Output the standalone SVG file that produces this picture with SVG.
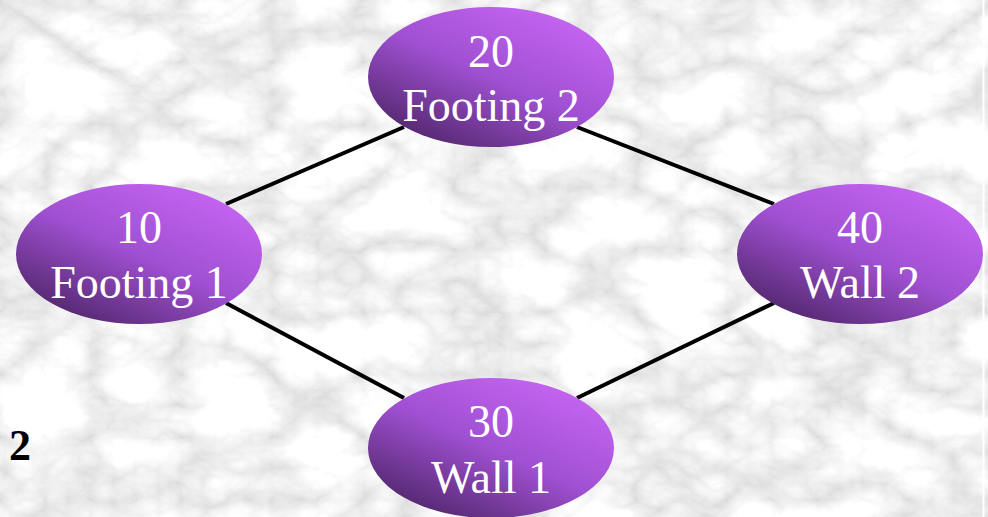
<svg xmlns="http://www.w3.org/2000/svg" width="988" height="517" viewBox="0 0 988 517">
  <defs>
    <filter id="marble" filterUnits="userSpaceOnUse" x="0" y="0" width="988" height="517">
      <feTurbulence type="turbulence" baseFrequency="0.011 0.016" numOctaves="5" seed="3" result="t"/>
      <feColorMatrix in="t" type="matrix" values="0.65 0 0 0 0.70  0.65 0 0 0 0.70  0.65 0 0 0 0.70  0 0 0 0 1" result="c"/>
      <feGaussianBlur in="c" stdDeviation="0.7"/>
    </filter>
    <linearGradient id="purple" x1="0.1" y1="1" x2="0.9" y2="0">
      <stop offset="0" stop-color="#45205c"/>
      <stop offset="0.5" stop-color="#a050d2"/>
      <stop offset="1" stop-color="#cc68f8"/>
    </linearGradient>
    <style>
      .node ellipse { fill: url(#purple); }
      .node text { font-size: 46px; fill: #ffffff; text-anchor: middle; }
      .edge { stroke: #000000; stroke-width: 4; fill: none; }
      .pagenum { font-size: 44px; font-weight: bold; fill: #000000; }
    </style>
  </defs>

  <rect x="0" y="0" width="988" height="517" fill="#e0e0e0"/>
  <rect x="0" y="0" width="988" height="517" filter="url(#marble)"/>
  <rect x="982.5" y="0" width="2" height="517" fill="#ffffff"/>

  <g id="connectors">
    <line class="edge" x1="226" y1="204" x2="404" y2="127"/>
    <line class="edge" x1="577" y1="127" x2="774" y2="204"/>
    <line class="edge" x1="226" y1="303" x2="404" y2="398"/>
    <line class="edge" x1="577" y1="398" x2="774" y2="303"/>
  </g>

  <g id="node-20" class="node" font-family="Liberation Serif, DejaVu Serif, serif">
    <ellipse cx="491" cy="77" rx="123" ry="70"/>
    <text x="491" y="67">20</text>
    <text x="491" y="121">Footing 2</text>
  </g>
  <g id="node-10" class="node" font-family="Liberation Serif, DejaVu Serif, serif">
    <ellipse cx="139" cy="254" rx="123" ry="70"/>
    <text x="139" y="243">10</text>
    <text x="139" y="298">Footing 1</text>
  </g>
  <g id="node-40" class="node" font-family="Liberation Serif, DejaVu Serif, serif">
    <ellipse cx="860" cy="254" rx="123" ry="70"/>
    <text x="860" y="243">40</text>
    <text x="860" y="298">Wall 2</text>
  </g>
  <g id="node-30" class="node" font-family="Liberation Serif, DejaVu Serif, serif">
    <ellipse cx="491" cy="448" rx="123" ry="70"/>
    <text x="491" y="437">30</text>
    <text x="491" y="493">Wall 1</text>
  </g>

  <text class="pagenum" x="9" y="460" font-family="Liberation Serif, DejaVu Serif, serif">2</text>
</svg>
